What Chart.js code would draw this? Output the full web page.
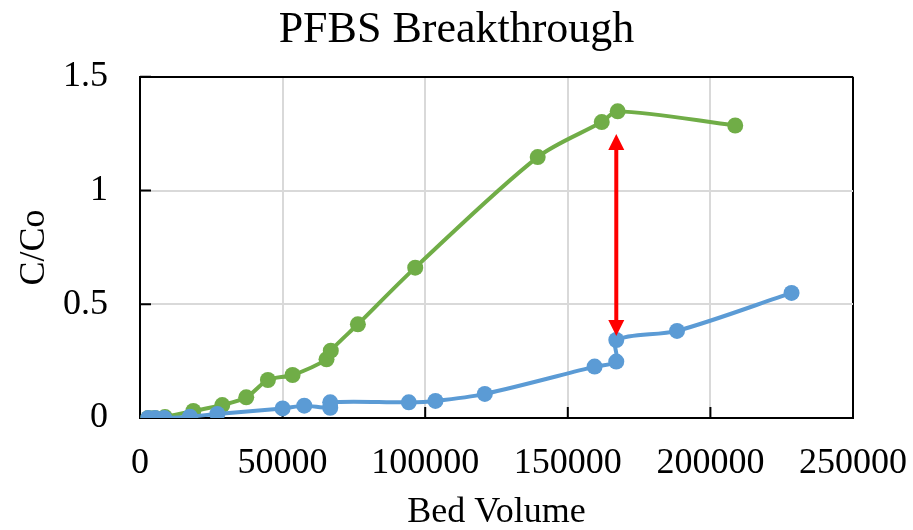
<!DOCTYPE html>
<html>
<head>
<meta charset="utf-8">
<script src="https://cdn.jsdelivr.net/npm/chart.js@4"></script>
<style>
  body { margin: 0; background: #fff; }
  canvas { display: block; }
</style>
</head>
<body>
<canvas id="chart" width="913" height="530"></canvas>
<script>
// breakthrough curves: bed volume vs C/Co
const greenBV = [2900, 5250, 8760, 18700, 28850, 37250, 44850, 53500, 65400, 66900, 76400, 96500, 139450, 161900, 167500, 208700];
const greenC  = [0, 0, 0.004, 0.031, 0.057, 0.091, 0.167, 0.189, 0.258, 0.296, 0.412, 0.661, 1.147, 1.301, 1.348, 1.286];

const blueBV = [2900, 5250, 8500, 17500, 27100, 50000, 57600, 66700, 66700, 94250, 103600, 120900, 159400, 167000, 167000, 188300, 228450];
const blueC  = [0, 0, 0, 0.006, 0.018, 0.042, 0.054, 0.045, 0.069, 0.069, 0.075, 0.106, 0.226, 0.248, 0.343, 0.383, 0.55];

const xTicks = [0, 50000, 100000, 150000, 200000, 250000];
const yTicks = [0, 0.5, 1, 1.5];

// red double arrow between the two curves
const arrowBV = 167000;
const arrowC = [0.361, 1.249];

const toPoints = (xs, ys) => xs.map((x, i) => ({ x: x, y: ys[i] }));

Chart.defaults.font.family = '"Liberation Serif", "Times New Roman", serif';
Chart.defaults.color = '#000';

const insideTicks = {
  id: 'insideTicks',
  beforeDatasetsDraw(chart) {
    const { ctx, chartArea: a, scales: { x, y } } = chart;
    ctx.save();
    ctx.strokeStyle = '#000';
    ctx.lineWidth = 2;
    ctx.beginPath();
    xTicks.forEach(v => {
      const px = x.getPixelForValue(v);
      ctx.moveTo(px, a.bottom);
      ctx.lineTo(px, a.bottom - 11);
    });
    yTicks.forEach(v => {
      const py = y.getPixelForValue(v);
      ctx.moveTo(a.left, py);
      ctx.lineTo(a.left + 11, py);
    });
    ctx.stroke();
    ctx.restore();
  }
};

const doubleArrow = {
  id: 'doubleArrow',
  afterDatasetsDraw(chart) {
    const { ctx, scales: { x, y } } = chart;
    const px = x.getPixelForValue(arrowBV);
    const low = y.getPixelForValue(arrowC[0]);
    const high = y.getPixelForValue(arrowC[1]);
    const head = 16, half = 8;
    ctx.save();
    ctx.strokeStyle = '#ff0000';
    ctx.fillStyle = '#ff0000';
    ctx.lineWidth = 4;
    ctx.beginPath();
    ctx.moveTo(px, high + head - 1);
    ctx.lineTo(px, low - head + 1);
    ctx.stroke();
    ctx.beginPath();
    ctx.moveTo(px, high);
    ctx.lineTo(px - half, high + head);
    ctx.lineTo(px + half, high + head);
    ctx.closePath();
    ctx.moveTo(px, low);
    ctx.lineTo(px - half, low - head);
    ctx.lineTo(px + half, low - head);
    ctx.closePath();
    ctx.fill();
    ctx.restore();
  }
};

const gridColor = edge => c => (c.tick && c.tick.value === edge) ? '#000' : '#d9d9d9';

new Chart(document.getElementById('chart'), {
  type: 'scatter',
  data: {
    datasets: [
      {
        label: 'Blue',
        data: toPoints(blueBV, blueC),
        showLine: true,
        borderColor: '#5b9bd5',
        backgroundColor: '#5b9bd5',
        borderWidth: 4,
        pointRadius: 8,
        pointBorderWidth: 0,
        tension: 0.3
      },
      {
        label: 'Green',
        data: toPoints(greenBV, greenC),
        showLine: true,
        borderColor: '#70ad47',
        backgroundColor: '#70ad47',
        borderWidth: 4,
        pointRadius: 8,
        pointBorderWidth: 0,
        tension: 0.3
      }
    ]
  },
  options: {
    responsive: false,
    animation: false,
    layout: { padding: 0 },
    plugins: {
      legend: { display: false },
      tooltip: { enabled: false },
      title: {
        display: true,
        text: 'PFBS Breakthrough',
        font: { size: 44, weight: 'normal' },
        padding: { top: 4, bottom: 20 }
      }
    },
    scales: {
      x: {
        type: 'linear',
        min: 0,
        max: 250000,
        // fixed axis height and right margin for the plot box
        afterFit: s => { s.height = 112; s.paddingLeft = 0; s.paddingRight = 60; },
        afterBuildTicks: s => { s.ticks = xTicks.map(v => ({ value: v })); },
        ticks: {
          font: { size: 36 },
          padding: 24,
          maxRotation: 0,
          autoSkip: false,
          callback: v => String(v)
        },
        grid: { color: gridColor(250000), lineWidth: 2, drawTicks: false },
        border: { color: '#000', width: 2 },
        title: { display: true, text: 'Bed Volume', font: { size: 36 }, padding: { top: 0, bottom: -4 } }
      },
      y: {
        min: 0,
        max: 1.5,
        afterFit: s => { s.width = 140; },
        afterBuildTicks: s => { s.ticks = yTicks.map(v => ({ value: v })); },
        ticks: {
          font: { size: 36 },
          padding: 32,
          callback: v => String(v)
        },
        grid: { color: gridColor(1.5), lineWidth: 2, drawTicks: false },
        border: { color: '#000', width: 2 },
        title: { display: true, text: 'C/Co', font: { size: 36 }, padding: { top: 13, bottom: 0 } }
      }
    }
  },
  plugins: [insideTicks, doubleArrow]
});
</script>
</body>
</html>
